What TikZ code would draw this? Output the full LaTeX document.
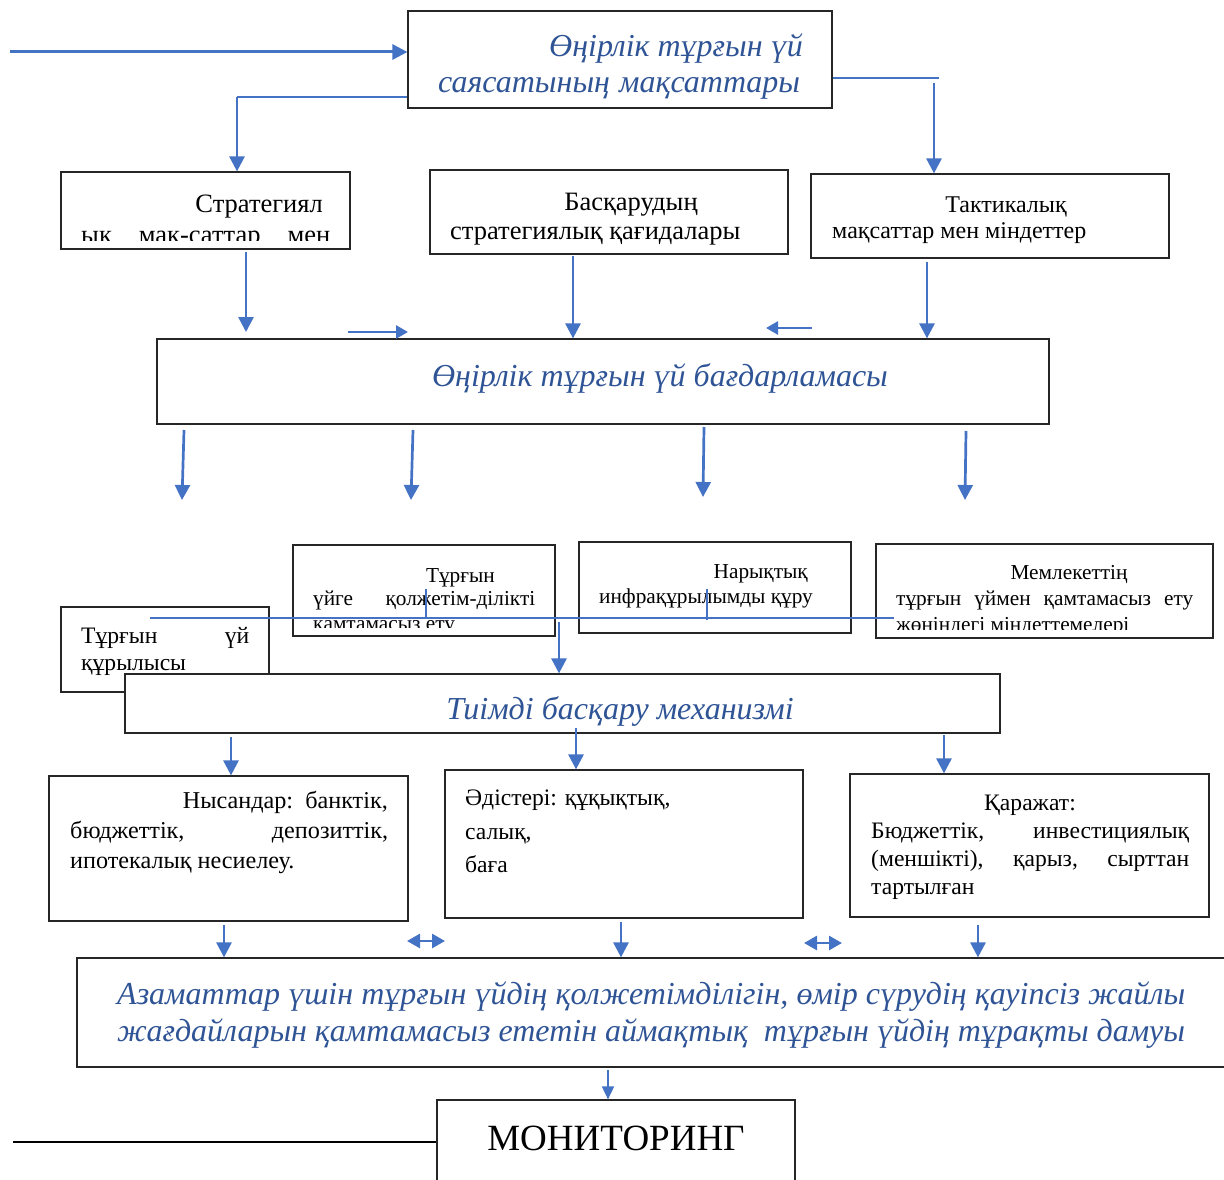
\documentclass[tikz,border=0pt]{standalone}
\usepackage{fontspec}
\setmainfont{Liberation Serif}
\usetikzlibrary{arrows.meta,fit}
\definecolor{arr}{RGB}{68,114,196}
\definecolor{btxt}{RGB}{47,84,150}
\tikzset{
  box/.style={draw=black!85, line width=1.2pt, fill=white, inner sep=0pt},
  txt/.style={inner sep=0pt, font=\fontsize{26.5}{31}\selectfont},
  txs/.style={inner sep=0pt, font=\fontsize{24}{29}\selectfont},
  sm/.style={inner sep=0pt, font=\fontsize{21.3}{25}\selectfont},
  md/.style={inner sep=0pt, font=\fontsize{23.6}{28}\selectfont},
  bti/.style={inner sep=0pt, text=btxt, font=\fontsize{32}{37}\itshape\selectfont},
  ar/.style={draw=arr, line width=2.7pt, -{Triangle[length=15pt,width=15pt]}},
  arsm/.style={draw=arr, line width=2.7pt, -{Triangle[length=12pt,width=13pt]}},
  dar/.style={draw=arr, line width=2.7pt, {Triangle[length=13pt,width=14pt]}-{Triangle[length=13pt,width=14pt]}},
  thin/.style={draw=arr, line width=1.3pt},
}
\begin{document}
\begin{tikzpicture}[x=1pt,y=-1pt]
\useasboundingbox (0,0) rectangle (1224,1180);
% boxes
\node[box, fit={(408,11) (832,108)}] (top) {};
\node[box, fit={(61,172) (350,249)}] (strat) {};
\node[box, fit={(430,170) (788,254)}] (basq) {};
\node[box, fit={(811,174) (1169,258)}] (takt) {};
\node[box, fit={(157,339) (1049,424)}] (prog) {};
\node[box, fit={(293,545) (555,636)}] (qol) {};
\node[box, fit={(579,542) (851,633)}] (nar) {};
\node[box, fit={(876,544) (1213,638)}] (mem) {};
\node[box, fit={(61,607) (269,692)}] (qur) {};
\node[md, anchor=base west] (qur1) at (81,643) {\makebox[168pt][s]{Тұрғын үй}};
\node[md, anchor=base west] (qur2) at (81,670) {құрылысы};
\node[box, fit={(125,674) (1000,733)}] (tiim) {};
\node[box, fit={(49,776) (408,921)}] (nys) {};
\node[box, fit={(445,770) (803,918)}] (adis) {};
\node[box, fit={(850,774) (1209,917)}] (qar) {};
\node[box, fit={(77,958) (1232,1067)}] (fin) {};
\node[box, fit={(437,1100) (795,1192)}] (mon) {};

% texts
\node[bti, anchor=base east] (top1) at (803,57) {Өңірлік тұрғын үй};
\node[bti, anchor=base west] (top2) at (438,93) {\makebox[362pt][s]{саясатының мақсаттары}};

\node[txt, anchor=base east] (str1) at (323,212) {Стратегиял};
\begin{scope}
\clip (61,172) rectangle (350,240);
\node[txt, anchor=base west] (str2) at (81,243) {\makebox[249pt][s]{ық мақ-саттар мен}};
\end{scope}

\node[txt, anchor=base] (bas1) at (631,210) {Басқарудың};
\node[txt, anchor=base west] (bas2) at (450,239) {стратегиялық қағидалары};

\node[txs, anchor=base] (tak1) at (1006,212) {Тактикалық};
\node[txs, anchor=base west] (tak2) at (832,238) {мақсаттар мен міндеттер};

\node[bti, anchor=base] (prg1) at (660,386) {Өңірлік тұрғын үй бағдарламасы};

\node[sm, anchor=base east] (qol1) at (495,582) {Тұрғын};
\node[sm, anchor=base west] (qol2) at (313,605) {\makebox[222pt][s]{үйге қолжетім-ділікті}};
\begin{scope}
\clip (293,545) rectangle (555,627);
\node[sm, anchor=base west] (qol3) at (313,630) {қамтамасыз ету};
\end{scope}

\node[sm, anchor=base east] (nar1) at (808,578) {Нарықтық};
\node[sm, anchor=base west] (nar2) at (599,603) {инфрақұрылымды құру};

\node[sm, anchor=base] (mem1) at (1069,579) {Мемлекеттің};
\node[sm, anchor=base west] (mem2) at (896,605) {\makebox[297pt][s]{тұрғын үймен қамтамасыз ету}};
\begin{scope}
\clip (876,544) rectangle (1213,629);
\node[sm, anchor=base west] (mem3) at (896,631) {жөніндегі міндеттемелері};
\end{scope}

\node[bti, anchor=base] (tii1) at (620,719) {Тиімді басқару механизмі};

\node[md, anchor=base east, font=\fontsize{24.2}{28}\selectfont] (nys1) at (388,808) {Нысандар:\ \ банктік,};
\node[md, anchor=base west, font=\fontsize{24.2}{28}\selectfont] (nys2) at (70,838) {\makebox[318pt][s]{бюджеттік, депозиттік,}};
\node[md, anchor=base west, font=\fontsize{24.2}{28}\selectfont] (nys3) at (70,868) {ипотекалық несиелеу.};

\node[md, anchor=base west] (adi1) at (465,805) {Әдістері: құқықтық,};
\node[md, anchor=base west] (adi2) at (465,839) {салық,};
\node[md, anchor=base west] (adi3) at (465,872) {баға};

\node[md, anchor=base] (qar1) at (1030,810) {Қаражат:};
\node[md, anchor=base west] (qar2) at (871,838) {\makebox[318pt][s]{Бюджеттік, инвестициялық}};
\node[md, anchor=base west] (qar3) at (871,866) {\makebox[318pt][s]{(меншікті), қарыз, сырттан}};
\node[md, anchor=base west] (qar4) at (871,894) {тартылған};

\node[bti, anchor=base west] (fin1) at (117,1004) {\makebox[1068pt][s]{Азаматтар үшін тұрғын үйдің қолжетімділігін, өмір сүрудің қауіпсіз жайлы}};
\node[bti, anchor=base west] (fin2) at (117,1041) {\makebox[1068pt][s]{жағдайларын қамтамасыз ететін аймақтық\ \ тұрғын үйдің тұрақты дамуы}};

\node[inner sep=0pt, font=\fontsize{37}{42}\selectfont, anchor=base] (mon1) at (616,1150) {МОНИТОРИНГ};

% connectors
\coordinate (in0) at (10,52);
\draw[ar, line width=3pt] (in0) -- (top.west |- in0);

\coordinate (c1) at (237,97);
\draw[thin] (top.west |- c1) -- (c1);
\draw[ar] (c1) -- (strat.north -| c1);

\coordinate (c2) at (939,78);
\draw[thin] (top.east |- c2) -- (c2);
\coordinate (c2b) at (934,83);
\draw[ar] (c2b) -- (takt.north -| c2b);

\coordinate (s1) at (246,252); \coordinate (e1) at (246,332);
\draw[ar] (s1) -- (e1);
\coordinate (s2) at (573,256);
\draw[ar] (s2) -- (prog.north -| s2);
\coordinate (s3) at (927,262);
\draw[ar] (s3) -- (prog.north -| s3);
\coordinate (h1a) at (348,332); \coordinate (h1b) at (408,332);
\draw[arsm] (h1a) -- (h1b);
\coordinate (h2a) at (812,328); \coordinate (h2b) at (766,328);
\draw[arsm] (h2a) -- (h2b);

\coordinate (d1a) at (184,430); \coordinate (d1b) at (182,500);
\draw[ar] (d1a) -- (d1b);
\coordinate (d2a) at (413,430); \coordinate (d2b) at (411,500);
\draw[ar] (d2a) -- (d2b);
\coordinate (d3a) at (704,427); \coordinate (d3b) at (703,497);
\draw[ar] (d3a) -- (d3b);
\coordinate (d4a) at (966,431); \coordinate (d4b) at (965,500);
\draw[ar] (d4a) -- (d4b);

\coordinate (l1a) at (150,618); \coordinate (l1b) at (894,618);
\draw[thin] (l1a) -- (l1b);
\coordinate (k1) at (426,589);
\draw[thin] (k1) -- (k1 |- l1a);
\coordinate (k2) at (707,589);
\coordinate (k2b) at (707,620);
\draw[thin] (k2) -- (k2b);

\coordinate (m1) at (559,622);
\draw[ar] (m1) -- (tiim.north -| m1);

\coordinate (t1) at (231,737);
\draw[ar] (t1) -- (nys.north -| t1);
\coordinate (t2) at (576,728);
\draw[ar] (t2) -- (adis.north -| t2);
\coordinate (t3) at (944,735);
\draw[ar] (t3) -- (qar.north -| t3);

\coordinate (b1) at (224,925);
\draw[ar] (b1) -- (fin.north -| b1);
\coordinate (b2) at (621,922);
\draw[ar] (b2) -- (fin.north -| b2);
\coordinate (b3) at (978,925);
\draw[ar] (b3) -- (fin.north -| b3);

\coordinate (x1a) at (407,941); \coordinate (x1b) at (445,941);
\draw[dar] (x1a) -- (x1b);
\coordinate (x2a) at (804,943); \coordinate (x2b) at (842,943);
\draw[dar] (x2a) -- (x2b);

\coordinate (f1) at (608,1070);
\draw[draw=arr, line width=1.8pt, -{Triangle[length=13pt,width=12pt]}] (f1) -- (mon.north -| f1);

\coordinate (ml) at (13,1142);
\draw[black, line width=1.2pt] (ml) -- (mon.west |- ml);
\end{tikzpicture}
\end{document}
